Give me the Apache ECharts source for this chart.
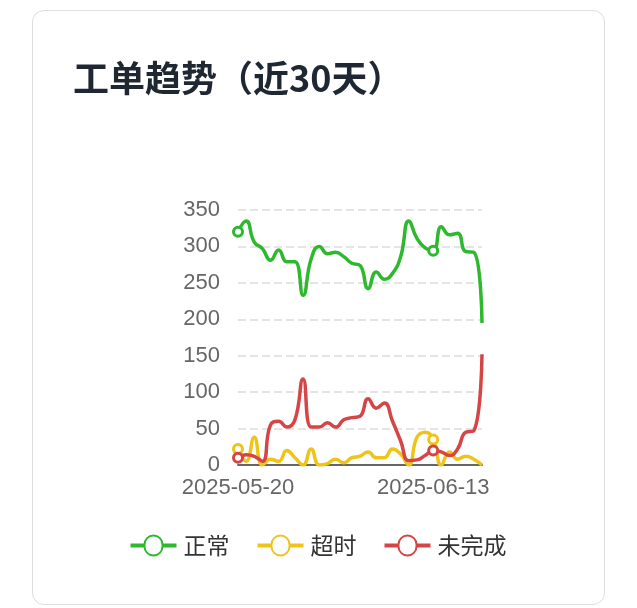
<!DOCTYPE html><html><head><meta charset="utf-8"><script src="https://cdn.jsdelivr.net/npm/echarts@6/dist/echarts.min.js"></script>
<style>body{margin:0;background:#fff}#card{position:absolute;left:32px;top:10px;width:573px;height:595px;border:1px solid #ddd;border-radius:12px;box-sizing:border-box}#c{position:absolute;left:0;top:0;width:637px;height:608px}</style></head><body><div id="card"></div><div id="c"></div><script>
const dates=[];for(let i=0;i<31;i++){const d=new Date(Date.UTC(2025,4,20+i));dates.push(d.toISOString().slice(0,10));}
const normal=[320,335,306,297,281,295,279,279,233,283,300,290,292,286,277,274,242,265,255,263,286,335,311,298,294,327,316,318,293,292,195];
const overtime=[22,5,38,0,8,5,20,10,0,22,0,2,8,3,10,12,18,10,10,22,15,0,38,45,35,0,18,8,12,8,0];
const unfinished=[10,14,12,5,55,60,52,62,118,52,52,58,52,62,65,67,91,78,85,60,33,6,7,13,20,18,13,22,45,47,152];
const ch=echarts.init(document.getElementById('c'));
const mk=(n,d,c)=>({name:n,type:'line',data:d,smooth:true,symbol:'circle',symbolSize:9,itemStyle:{color:'#fff',borderColor:c,borderWidth:3},lineStyle:{color:c,width:3.5},color:c});
ch.setOption({animation:false,
title:{text:'工单趋势（近30天）',left:68,top:55,textStyle:{fontSize:36,fontWeight:'bold',color:'#1f2733',fontFamily:'Noto Sans CJK SC'}},
legend:{bottom:46,left:'center',itemWidth:50,itemHeight:20,itemGap:28,textStyle:{fontSize:23,color:'#333',fontFamily:'Noto Sans CJK SC'},icon:'path://M0,9 L13,9 A9,9 0 1,1 31,9 L44,9 L44,11 L31,11 A9,9 0 1,1 13,11 L0,11 Z',data:['正常','超时','未完成']},
grid:{left:238,right:155,top:210,bottom:143},
xAxis:{type:'category',boundaryGap:false,data:dates,axisTick:{show:false},axisLine:{lineStyle:{color:'#666',width:2}},axisLabel:{interval:23,fontSize:22,color:'#666',margin:12}},
yAxis:{type:'value',min:0,max:350,interval:50,axisLabel:{fontSize:22,color:'#666',margin:18},splitLine:{lineStyle:{type:'dashed',color:'#e4e4e4',width:2}}},
series:[mk('正常',normal,'#2eb82e'),mk('超时',overtime,'#efc419'),mk('未完成',unfinished,'#d64545')]});
</script></body></html>
